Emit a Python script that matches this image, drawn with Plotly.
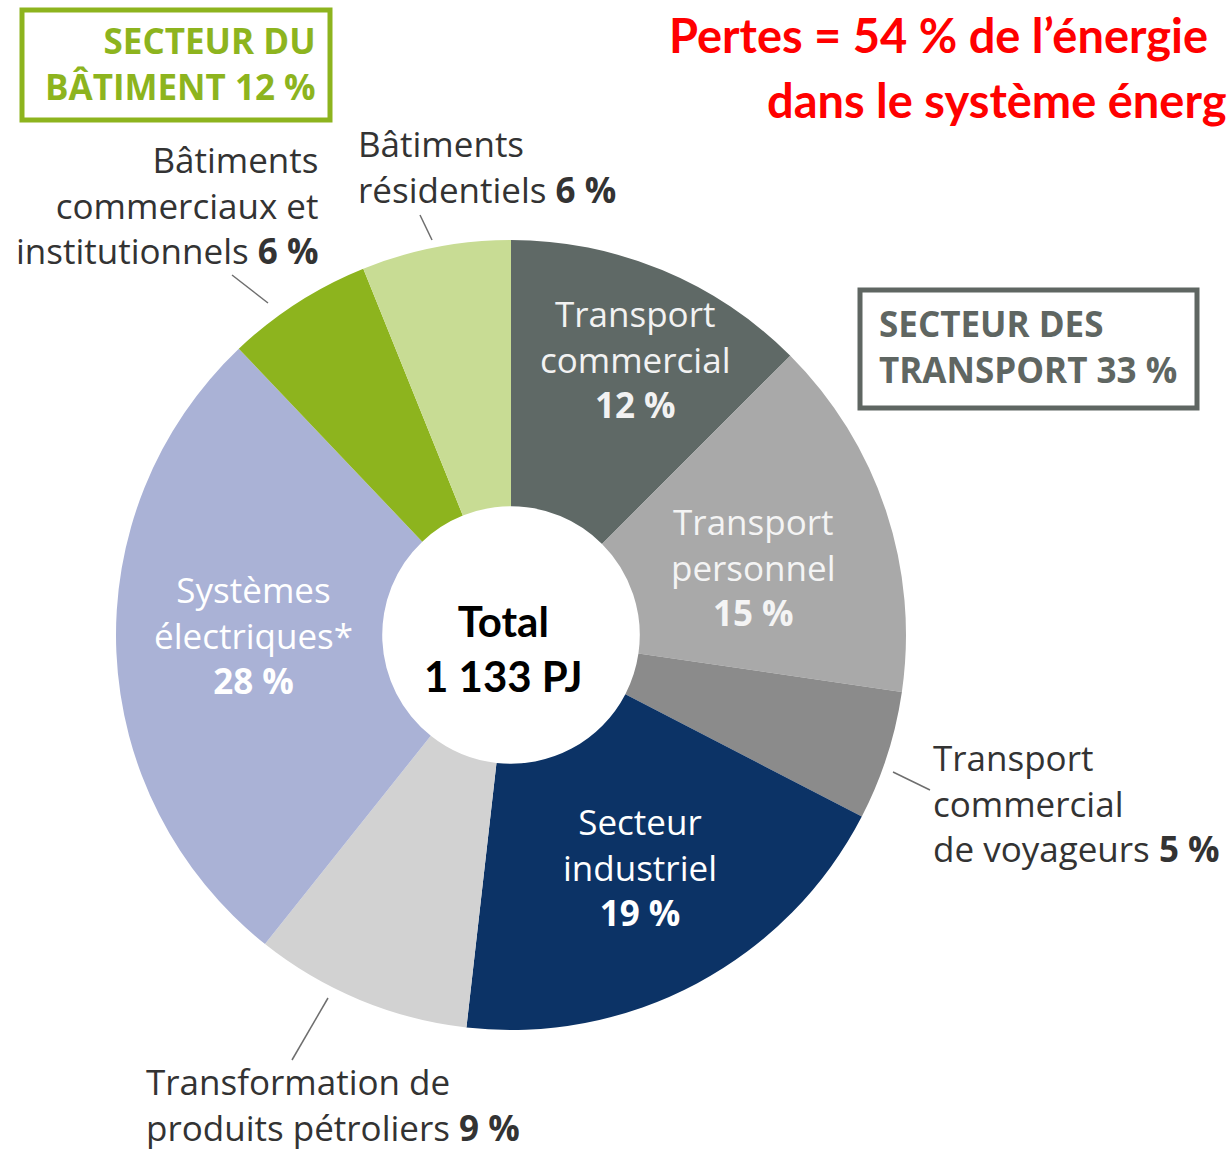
import plotly.graph_objects as go

W, H = 1230, 1151

# ---- data ----
categories = [
    "Transport commercial",
    "Transport personnel",
    "Transport commercial de voyageurs",
    "Secteur industriel",
    "Transformation de produits pétroliers",
    "Systèmes électriques*",
    "Bâtiments commerciaux et institutionnels",
    "Bâtiments résidentiels",
]
# slice sizes (share of 1 133 PJ, %)
shares = [12.5, 14.8, 5.3, 19.2, 8.9, 27.2, 6.0, 6.1]
# percentages printed on the chart
pct_labels = [12, 15, 5, 19, 9, 28, 6, 6]
colors = ["#5f6966", "#a9a9a9", "#8b8b8b", "#0c3366",
          "#d2d2d2", "#aab2d6", "#8db41e", "#c8dc94"]

total_lines = ["Total", "1 133 PJ"]
building_box = ["SECTEUR DU", "BÂTIMENT 12 %"]
transport_box = ["SECTEUR DES", "TRANSPORT 33 %"]
title_lines = ["Pertes = 54 % de l’énergie", "dans le système énerg"]


def px(x):
    return x / W


def py(y):
    return 1 - y / H


# pie geometry (pixels)
cx, cy, R = 511, 635, 395

fig = go.Figure(go.Pie(
    labels=categories,
    values=shares,
    sort=False,
    direction="clockwise",
    rotation=0,
    hole=0.326,
    marker=dict(colors=colors, line=dict(color="white", width=0)),
    textinfo="none",
    hoverinfo="label",
    domain=dict(x=[px(cx - R), px(cx + R)], y=[py(cy + R), py(cy - R)]),
    showlegend=False,
))

lab_font = "Open Sans"
FS = 35
ann = []


def add_label(lines, x, yc, align, color, size=FS, family=lab_font):
    ann.append(dict(x=px(x), y=py(yc), xref="paper", yref="paper",
                    text="<br>".join(lines), showarrow=False, align=align,
                    xanchor=align, yanchor="middle",
                    font=dict(family=family, size=size, color=color)))


def pct(i):
    return "<b>%d %%</b>" % pct_labels[i]


# inside labels
add_label(["Transport", "commercial", pct(0)], 635, 359, "center", "#f2f2f2")
add_label(["Transport", "personnel", pct(1)], 753, 567, "center", "#f4f4f4")
add_label(["Secteur", "industriel", pct(3)], 640, 867, "center", "#ffffff")
add_label(["Systèmes", "électriques*", pct(5)], 253, 635, "center", "#ffffff")

# outside labels
add_label(["Bâtiments", "commerciaux et", "institutionnels " + pct(6)], 320, 205, "right", "#333333")
add_label(["Bâtiments", "résidentiels " + pct(7)], 356, 166, "left", "#333333")
add_label(["Transport", "commercial", "de voyageurs " + pct(2)], 931, 803, "left", "#333333")
add_label(["Transformation de", "produits pétroliers " + pct(4)], 144, 1104, "left", "#333333")

# center total
add_label(["<b>%s</b>" % t for t in total_lines], 503, 648, "center", "#000000",
          size=42, family="Lato")

# sector box texts
add_label(["<b>%s</b>" % t for t in building_box], 318, 63, "right", "#8db41e")
add_label(["<b>%s</b>" % t for t in transport_box], 877, 347, "left", "#5f6662")

# red title
ann.append(dict(x=px(667), y=py(35), xref="paper", yref="paper",
                text="<b>" + title_lines[0] + "</b>", showarrow=False,
                xanchor="left", yanchor="middle",
                font=dict(family="Lato", size=47, color="#ff0000")))
ann.append(dict(x=px(765), y=py(100), xref="paper", yref="paper",
                text="<b>" + title_lines[1] + "</b>", showarrow=False,
                xanchor="left", yanchor="middle",
                font=dict(family="Lato", size=47, color="#ff0000")))

shapes = [
    dict(type="rect", xref="paper", yref="paper",
         x0=px(22), x1=px(330), y0=py(10), y1=py(120),
         line=dict(color="#8db41e", width=5)),
    dict(type="rect", xref="paper", yref="paper",
         x0=px(860), x1=px(1197), y0=py(290), y1=py(408),
         line=dict(color="#5f6662", width=5)),
]
leaders = [
    (420, 215, 432, 240),
    (232, 275, 268, 303),
    (893, 772, 930, 790),
    (328, 998, 292, 1060),
]
for x0, y0, x1, y1 in leaders:
    shapes.append(dict(type="line", xref="paper", yref="paper",
                       x0=px(x0), y0=py(y0), x1=px(x1), y1=py(y1),
                       line=dict(color="#6e6e6e", width=1.5)))

fig.update_layout(
    width=W, height=H,
    margin=dict(l=0, r=0, t=0, b=0),
    paper_bgcolor="white", plot_bgcolor="white",
    annotations=ann, shapes=shapes,
)

fig.write_html("out.html", config={"displayModeBar": False},
               post_script="document.body.style.margin='0';")
